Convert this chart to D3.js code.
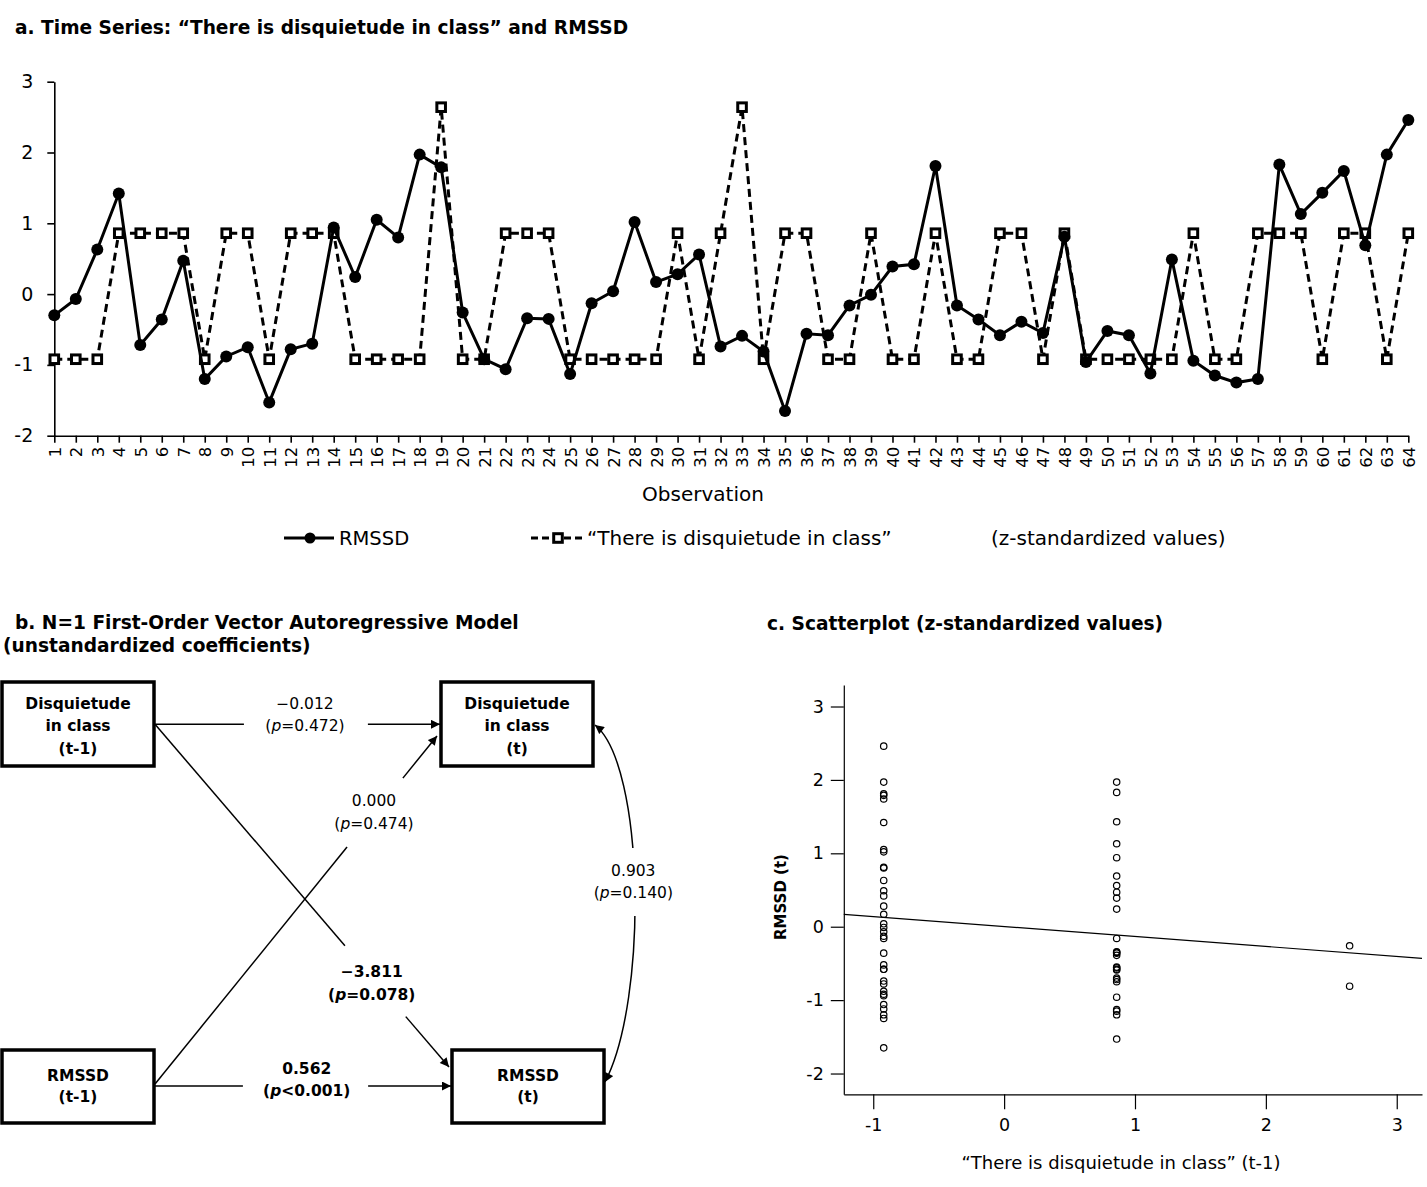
<!DOCTYPE html>
<html>
<head>
<meta charset="utf-8">
<script src="https://cdn.jsdelivr.net/npm/d3@7"></script>
<style>
  body { margin: 0; background: #fff; }
  text { font-family: "DejaVu Sans", sans-serif; }
</style>
</head>
<body>
<svg id="fig"></svg>
<script>
// ---- data ----
const observations = [1,2,3,4,5,6,7,8,9,10,11,12,13,14,15,16,17,18,19,20,21,22,23,24,25,26,27,28,29,30,31,32,
  33,34,35,36,37,38,39,40,41,42,43,44,45,46,47,48,49,50,51,52,53,54,55,56,57,58,59,60,61,62,63,64];

const rmssd = [-0.30,-0.07,0.63,1.42,-0.72,-0.36,0.47,-1.20,-0.88,-0.75,-1.53,-0.78,-0.70,0.94,0.24,1.05,
  0.80,1.97,1.79,-0.26,-0.92,-1.06,-0.34,-0.35,-1.13,-0.13,0.04,1.02,0.17,0.28,0.56,-0.74,
  -0.59,-0.81,-1.65,-0.56,-0.58,-0.16,-0.01,0.39,0.42,1.81,-0.16,-0.36,-0.58,-0.39,-0.55,0.81,
  -0.96,-0.52,-0.58,-1.12,0.49,-0.94,-1.15,-1.25,-1.20,1.83,1.13,1.43,1.74,0.69,1.97,2.46];

const disquietude = [-0.92,-0.92,-0.92,0.86,0.86,0.86,0.86,-0.92,0.86,0.86,-0.92,0.86,0.86,0.86,-0.92,-0.92,
  -0.92,-0.92,2.64,-0.92,-0.92,0.86,0.86,0.86,-0.92,-0.92,-0.92,-0.92,-0.92,0.86,-0.92,0.86,
  2.64,-0.92,0.86,0.86,-0.92,-0.92,0.86,-0.92,-0.92,0.86,-0.92,-0.92,0.86,0.86,-0.92,0.86,
  -0.92,-0.92,-0.92,-0.92,-0.92,0.86,-0.92,-0.92,0.86,0.86,0.86,-0.92,0.86,0.86,-0.92,0.86];

const tsYTicks = [-2,-1,0,1,2,3];
const scYTicks = [-2,-1,0,1,2,3];
const scXTicks = [-1,0,1,2,3];

// VAR diagram
const nodeIds = ['dis1','dis0','rm1','rm0'];
const nodeLines = [['Disquietude','in class','(t-1)'], ['Disquietude','in class','(t)'], ['RMSSD','(t-1)'], ['RMSSD','(t)']];
const coefValue = ['\u22120.012','0.000','\u22123.811','0.562','0.903'];
const coefP = ['=0.472','=0.474','=0.078','<0.001','=0.140'];
const coefSignificant = [false,false,true,true,false];

// ---- layout ----
const W = 1427, H = 1187;
const svg = d3.select('#fig').attr('width', W).attr('height', H);
svg.append('rect').attr('width', W).attr('height', H).attr('fill', '#fff');

const defs = svg.append('defs');
defs.append('marker')
    .attr('id', 'arrow')
    .attr('viewBox', '0 0 10 10')
    .attr('refX', 10).attr('refY', 5)
    .attr('markerWidth', 11).attr('markerHeight', 9)
    .attr('markerUnits', 'userSpaceOnUse')
    .attr('orient', 'auto-start-reverse')
  .append('path').attr('d', 'M0,0L10,5L0,10Z').attr('fill', '#000');

// titles
const titles = [
  {t: 'a. Time Series: \u201CThere is disquietude in class\u201D and RMSSD', x: 15, y: 34},
  {t: 'b. N=1 First-Order Vector Autoregressive Model', x: 15, y: 629},
  {t: '(unstandardized coefficients)', x: 3, y: 652},
  {t: 'c. Scatterplot (z-standardized values)', x: 767, y: 630}
];
svg.selectAll('text.title').data(titles).join('text')
   .attr('class', 'title')
   .attr('x', d => d.x).attr('y', d => d.y)
   .attr('font-size', 18.6).attr('font-weight', 'bold')
   .text(d => d.t);

// ---- a. time series ----
const x = d3.scalePoint().domain(observations).range([54.3, 1408.3]);
const y = d3.scaleLinear().domain([-2, 3]).range([435.7, 81.7]);

const ts = svg.append('g');

ts.append('g')
  .attr('transform', 'translate(0,435.7)')
  .call(d3.axisBottom(x).tickSize(7).tickSizeOuter(0))
  .call(g => g.attr('font-family', null).attr('font-size', 16.5))
  .call(g => g.selectAll('.domain, .tick line').attr('stroke-width', 1.6))
  .call(g => g.selectAll('text')
      .attr('transform', 'rotate(-90)')
      .attr('text-anchor', 'end')
      .attr('x', -11).attr('y', 0).attr('dy', '0.36em'));

ts.append('g')
  .attr('transform', 'translate(54.3,0)')
  .call(d3.axisLeft(y).tickValues(tsYTicks).tickFormat(d3.format('d')).tickSize(7).tickSizeOuter(0).tickPadding(14))
  .call(g => g.attr('font-family', null).attr('font-size', 19))
  .call(g => g.selectAll('.domain, .tick line').attr('stroke-width', 1.6))
  .call(g => g.selectAll('text').text(d => d < 0 ? '-' + Math.abs(d) : d));

ts.append('text')
  .attr('x', 703).attr('y', 501)
  .attr('text-anchor', 'middle').attr('font-size', 20)
  .text('Observation');

const line = d3.line().x((d, i) => x(observations[i])).y(d => y(d));

ts.append('path')
  .attr('d', line(disquietude))
  .attr('fill', 'none').attr('stroke', '#000')
  .attr('stroke-width', 3).attr('stroke-dasharray', '8,5');

ts.append('g').selectAll('rect')
  .data(disquietude).join('rect')
  .attr('x', (d, i) => x(observations[i]) - 4.3)
  .attr('y', d => y(d) - 4.3)
  .attr('width', 8.6).attr('height', 8.6)
  .attr('fill', '#fff').attr('stroke', '#000').attr('stroke-width', 3);

ts.append('path')
  .attr('d', line(rmssd))
  .attr('fill', 'none').attr('stroke', '#000').attr('stroke-width', 3);

ts.append('g').selectAll('circle')
  .data(rmssd).join('circle')
  .attr('cx', (d, i) => x(observations[i]))
  .attr('cy', d => y(d))
  .attr('r', 6).attr('fill', '#000');

// legend
const leg = ts.append('g');
leg.append('line').attr('x1', 284).attr('x2', 334).attr('y1', 538).attr('y2', 538)
   .attr('stroke', '#000').attr('stroke-width', 3);
leg.append('circle').attr('cx', 310).attr('cy', 538).attr('r', 5.5).attr('fill', '#000');
leg.append('text').attr('x', 339).attr('y', 545).attr('font-size', 19.5).text('RMSSD');

leg.append('line').attr('x1', 531).attr('x2', 584).attr('y1', 538).attr('y2', 538)
   .attr('stroke', '#000').attr('stroke-width', 2.8).attr('stroke-dasharray', '7,4');
leg.append('rect').attr('x', 553.7).attr('y', 533.7).attr('width', 8.6).attr('height', 8.6)
   .attr('fill', '#fff').attr('stroke', '#000').attr('stroke-width', 3);
leg.append('text').attr('x', 587).attr('y', 545).attr('font-size', 20)
   .text('\u201CThere is disquietude in class\u201D');
leg.append('text').attr('x', 991).attr('y', 545).attr('font-size', 20)
   .text('(z-standardized values)');

// ---- b. VAR diagram ----
const boxes = {
  dis1: {x: 2,   y: 682,  w: 152, h: 84},
  dis0: {x: 441, y: 682,  w: 152, h: 84},
  rm1:  {x: 2,   y: 1050, w: 152, h: 73},
  rm0:  {x: 452, y: 1050, w: 152, h: 73}
};
const boxTextY = {dis1: [708.5, 731, 753.5], dis0: [708.5, 731, 753.5], rm1: [1081, 1102], rm0: [1081, 1102]};

const diag = svg.append('g');

// straight edges: endpoints plus the stretch left blank for the label
const edges = [
  {p0: [155, 724.3], p1: [440, 724.3], gap: [0.312, 0.747], lx: 305,   ly: [709, 731]},
  {p0: [155, 1084],  p1: [437, 736],   gap: [0.681, 0.879], lx: 374,   ly: [805.5, 828.5]},
  {p0: [155, 724.3], p1: [449, 1067],  gap: [0.646, 0.853], lx: 371.7, ly: [977, 999.5]},
  {p0: [155, 1086],  p1: [451, 1086],  gap: [0.297, 0.720], lx: 306.7, ly: [1073.5, 1096]}
];
const lerp = (a, b, t) => [a[0] + (b[0] - a[0]) * t, a[1] + (b[1] - a[1]) * t];

edges.forEach(e => {
  const a = lerp(e.p0, e.p1, e.gap[0]);
  const b = lerp(e.p0, e.p1, e.gap[1]);
  diag.append('line')
      .attr('x1', e.p0[0]).attr('y1', e.p0[1]).attr('x2', a[0]).attr('y2', a[1])
      .attr('stroke', '#000').attr('stroke-width', 1.5);
  diag.append('line')
      .attr('x1', b[0]).attr('y1', b[1]).attr('x2', e.p1[0]).attr('y2', e.p1[1])
      .attr('stroke', '#000').attr('stroke-width', 1.5)
      .attr('marker-end', 'url(#arrow)');
});

// curved covariance arrow
diag.append('path')
    .attr('d', 'M595,725 C645,765 648,1000 605,1082')
    .attr('fill', 'none').attr('stroke', '#000').attr('stroke-width', 1.5)
    .attr('marker-start', 'url(#arrow)').attr('marker-end', 'url(#arrow)');
diag.append('rect').attr('x', 598).attr('y', 848).attr('width', 72).attr('height', 68).attr('fill', '#fff');

const labelPos = edges.map(e => ({x: e.lx, y: e.ly})).concat([{x: 633.3, y: [876, 897.5]}]);

coefValue.forEach((v, i) => {
  const g = diag.append('g')
      .attr('font-size', 15.5)
      .attr('font-weight', coefSignificant[i] ? 'bold' : 'normal')
      .attr('text-anchor', 'middle');
  g.append('text').attr('x', labelPos[i].x).attr('y', labelPos[i].y[0]).text(v);
  const t2 = g.append('text').attr('x', labelPos[i].x).attr('y', labelPos[i].y[1]);
  t2.append('tspan').text('(');
  t2.append('tspan').attr('font-style', 'italic').text('p');
  t2.append('tspan').text(coefP[i] + ')');
});

nodeIds.forEach((id, i) => {
  const b = boxes[id];
  diag.append('rect')
      .attr('x', b.x).attr('y', b.y).attr('width', b.w).attr('height', b.h)
      .attr('fill', '#fff').attr('stroke', '#000').attr('stroke-width', 3.5);
  nodeLines[i].forEach((s, j) => {
    diag.append('text')
        .attr('x', b.x + b.w / 2).attr('y', boxTextY[id][j])
        .attr('text-anchor', 'middle').attr('font-size', 15.5).attr('font-weight', 'bold')
        .text(s);
  });
});

// ---- c. scatterplot ----
const sx = d3.scaleLinear().domain([-1.225, 3.193]).range([843.8, 1422]);
const sy = d3.scaleLinear().domain([-2.283, 3.293]).range([1094.3, 685]);

const pairs = observations.slice(1).map((o, i) => ({xv: disquietude[i], yv: rmssd[i + 1]}));

const sc = svg.append('g');

sc.append('g')
  .attr('transform', 'translate(0,1094.3)')
  .call(d3.axisBottom(sx).tickValues(scXTicks).tickSize(15).tickSizeOuter(0).tickPadding(9))
  .call(g => g.attr('font-family', null).attr('font-size', 17.5))
  .call(g => g.selectAll('.domain, .tick line').attr('stroke-width', 1.2))
  .call(g => g.selectAll('text').text(d => d < 0 ? '-' + Math.abs(d) : d));

sc.append('g')
  .attr('transform', 'translate(843.8,0)')
  .call(d3.axisLeft(sy).tickValues(scYTicks).tickSize(13).tickSizeOuter(0).tickPadding(7))
  .call(g => g.attr('font-family', null).attr('font-size', 17.5))
  .call(g => g.selectAll('.domain, .tick line').attr('stroke-width', 1.2))
  .call(g => g.selectAll('text').text(d => d < 0 ? '-' + Math.abs(d) : d));

sc.selectAll('circle').data(pairs).join('circle')
  .attr('cx', d => sx(d.xv)).attr('cy', d => sy(d.yv))
  .attr('r', 3.2).attr('fill', 'none').attr('stroke', '#000').attr('stroke-width', 1.2);

// least-squares fit line
const mx = d3.mean(pairs, d => d.xv), my = d3.mean(pairs, d => d.yv);
const slope = d3.sum(pairs, d => (d.xv - mx) * (d.yv - my)) / d3.sum(pairs, d => (d.xv - mx) ** 2);
const icpt = my - slope * mx;
const [fx0, fx1] = sx.domain();
sc.append('line')
  .attr('x1', sx(fx0)).attr('y1', sy(icpt + slope * fx0))
  .attr('x2', sx(fx1)).attr('y2', sy(icpt + slope * fx1))
  .attr('stroke', '#000').attr('stroke-width', 1.2);

sc.append('text')
  .attr('transform', 'translate(786,897) rotate(-90)')
  .attr('text-anchor', 'middle').attr('font-size', 15).attr('font-weight', 'bold')
  .text('RMSSD (t)');

sc.append('text')
  .attr('x', 1121).attr('y', 1169)
  .attr('text-anchor', 'middle').attr('font-size', 18)
  .text('\u201CThere is disquietude in class\u201D (t-1)');
</script>
</body>
</html>
